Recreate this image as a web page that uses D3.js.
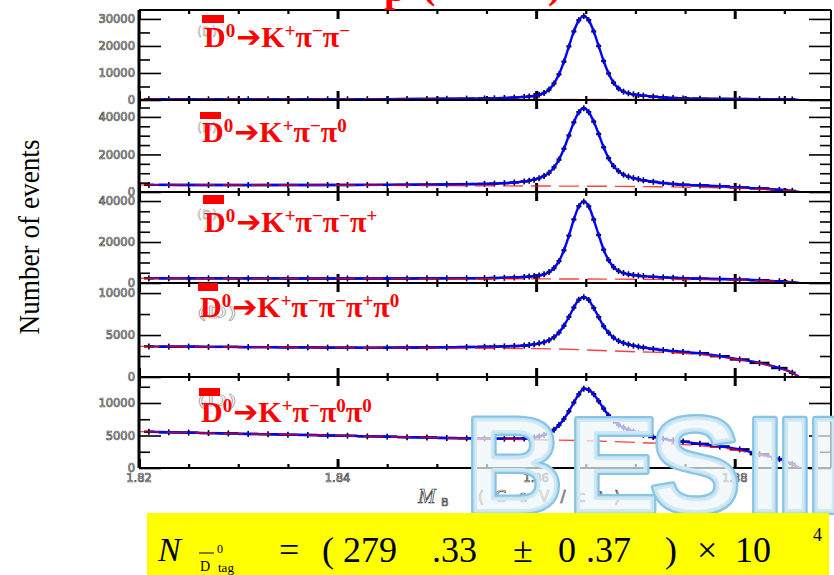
<!DOCTYPE html>
<html><head><meta charset="utf-8">
<script src="https://cdn.jsdelivr.net/npm/d3@7"></script>
<style>body{margin:0;background:#fff}svg{display:block}</style>
</head><body>
<svg id="c" width="834" height="575"></svg>
<script>
// ---------------- DATA ----------------
const massGrid = [1.821,1.823,1.825,1.827,1.829,1.831,1.833,1.835,1.837,1.839,1.841,1.843,1.845,1.847,1.849,1.851,1.853,
  1.8548,1.8558,1.8568,1.8578,1.8588,
  1.8593,1.8598,1.8603,1.8608,1.8613,1.8618,1.8623,1.8628,1.8633,1.8638,1.8643,1.8648,1.8653,1.8658,1.8663,1.8668,1.8673,1.8678,1.8683,1.8688,1.8693,1.8698,1.8703,
  1.8708,1.8718,1.8728,1.8738,1.8748,
  1.8765,1.8785,1.8805,1.8825,1.8845,1.8858];
const endpointMass = 1.8865;

const countsP1 = [260,255,262,258,255,260,258,265,270,275,285,300,320,350,390,440,500,
  560,620,740,900,1140,
  1330,1450,1940,2620,3880,6100,9490,14200,19840,25380,29510,31050,29510,25380,19960,14420,9800,6410,4250,3080,2470,2100,1850,
  1600,1250,950,750,600,
  500,420,360,320,280,200];
const countsP2 = [3790,3770,3750,3730,3710,3690,3710,3730,3710,3735,3755,3770,3810,3855,3940,4020,4190,
  4340,4480,4710,5070,5630,
  6020,6590,7330,8565,10215,13110,17250,23050,30095,37140,42525,44590,42505,37515,30865,23800,17980,13820,11100,9225,8170,7400,6840,
  6240,5430,4770,4280,3890,
  3520,3040,2430,1915,1150,625];
const countsP3 = [2300,2290,2280,2270,2260,2250,2240,2230,2220,2210,2200,2210,2220,2230,2260,2290,2330,
  2350,2430,2540,2690,2950,
  3140,3360,3700,4260,5390,7280,10670,15950,23110,31030,37440,39700,37360,30950,23410,16250,11160,7760,5880,4860,4260,3880,3620,
  3340,3010,2750,2530,2350,
  2150,1930,1660,1350,870,410];
const countsP4 = [3645,3620,3625,3590,3590,3560,3560,3530,3530,3505,3500,3480,3495,3510,3515,3545,3570,
  3600,3615,3650,3685,3745,
  3811,3896,4007,4149,4386,4749,5301,6105,7161,8280,9210,9510,9180,8220,7134,6048,5277,4695,4297,4057,3879,3733,3619,
  3517,3341,3202,3089,2989,
  2840,2480,2090,1680,1070,510];
const countsP5 = [5580,5490,5450,5370,5320,5240,5200,5120,5080,5000,4960,4870,4830,4740,4700,4610,4570,
  4540,4526,4520,4522,4545,
  4610,4715,4860,5085,5430,5895,6600,7545,8730,10075,11335,12200,12015,11350,10285,9140,8075,7250,6660,6230,5880,5610,5340,
  5110,4760,4490,4250,4060,
  3720,3320,2870,2130,1370,630];

const bkgMassP1 = [1.82,1.85,1.87,1.88,1.8858,1.8865];
const bkgP1     = [260,250,230,200,150,0];
const bkgMassP2 = [1.82,1.84,1.85,1.86,1.87,1.875,1.88,1.8825,1.8845,1.8858,1.8865];
const bkgP2     = [3800,3620,3420,3200,2920,2600,2050,1500,900,500,0];
const bkgMassP3 = [1.82,1.84,1.85,1.86,1.87,1.875,1.88,1.8825,1.8845,1.8858,1.8865];
const bkgP3     = [2300,2200,2110,2010,1840,1700,1420,1150,750,350,0];
const bkgMassP4 = [1.82,1.84,1.85,1.86,1.87,1.875,1.88,1.8825,1.8845,1.8858,1.8865];
const bkgP4     = [3650,3500,3450,3380,3010,2800,2150,1650,1050,500,0];
const bkgMassP5 = [1.82,1.83,1.84,1.85,1.86,1.865,1.87,1.875,1.88,1.8825,1.8845,1.8858,1.8865];
const bkgP5     = [5600,5280,4980,4650,4350,4200,3930,3600,2800,2000,1300,600,0];

const yMaxes = [33300,49000,44400,11200,14000];
const yMajorTicks = [[0,10000,20000,30000],[0,20000,40000],[0,20000,40000],[0,5000,10000],[0,5000,10000]];
const yMinorSteps = [5000,5000,5000,2500,2500];
const xMajorTicks = [1.82,1.84,1.86,1.88];
const xTickLabels = ["1.82","1.84","1.86","1.88"];

// decay labels: [text, kind]  kind: "" normal, "sup" superscript, "arr" arrow
const decayLabels = [
  [["D",""],["0","sup"],["➔","arr"],["K",""],["+","sup"],["π",""],["−","sup"],["π",""],["−","sup"]],
  [["D",""],["0","sup"],["➔","arr"],["K",""],["+","sup"],["π",""],["−","sup"],["π",""],["0","sup"]],
  [["D",""],["0","sup"],["➔","arr"],["K",""],["+","sup"],["π",""],["−","sup"],["π",""],["−","sup"],["π",""],["+","sup"]],
  [["D",""],["0","sup"],["➔","arr"],["K",""],["+","sup"],["π",""],["−","sup"],["π",""],["−","sup"],["π",""],["+","sup"],["π",""],["0","sup"]],
  [["D",""],["0","sup"],["➔","arr"],["K",""],["+","sup"],["π",""],["−","sup"],["π",""],["0","sup"],["π",""],["0","sup"]]
];
const yTitle = "Number of events";
const watermark = ["B","E","S","I","I","I"];

// ---------------- LAYOUT ----------------
const counts = [countsP1,countsP2,countsP3,countsP4,countsP5];
const bkgMass = [bkgMassP1,bkgMassP2,bkgMassP3,bkgMassP4,bkgMassP5];
const bkgs = [bkgP1,bkgP2,bkgP3,bkgP4,bkgP5];
const tops = [10,100,192,283,377], bottoms = [100,192,283,377,468];
const X0 = 139, X1 = 831;
const svg = d3.select("#c");
const x = d3.scaleLinear().domain([1.82,1.8897]).range([X0,X1]);
const defs = svg.append("defs");
const hollow = s => s.attr("fill","#fff").attr("stroke","#444").attr("stroke-width",0.7)
   .attr("font-family","DejaVu Sans").attr("font-size",11.5);

const gPlot = svg.append("g");
for (let i=0;i<5;i++){
  const top=tops[i], bot=bottoms[i];
  const y = d3.scaleLinear().domain([0,yMaxes[i]]).range([bot,top]);
  const g = gPlot.append("g");
  defs.append("clipPath").attr("id","clip"+i).append("rect")
     .attr("x",X0).attr("y",top).attr("width",X1-X0).attr("height",bot-top);

  // y axes
  const major = yMajorTicks[i];
  const minor = d3.range(0,yMaxes[i],yMinorSteps[i]).filter(v=>!major.includes(v));
  const la = g.append("g").attr("transform",`translate(${X0},0)`)
     .call(d3.axisLeft(y).tickValues(major).tickSize(-22).tickSizeOuter(0).tickPadding(4).tickFormat(d3.format("d")));
  la.select(".domain").remove();
  la.selectAll("line").attr("stroke","#000").attr("stroke-width",1.6);
  la.selectAll("text").call(hollow);
  const lm = g.append("g").attr("transform",`translate(${X0},0)`)
     .call(d3.axisLeft(y).tickValues(minor).tickSize(-11).tickSizeOuter(0).tickFormat(""));
  lm.select(".domain").remove(); lm.selectAll("line").attr("stroke","#000").attr("stroke-width",1.6);
  const ra = g.append("g").attr("transform",`translate(${X1},0)`)
     .call(d3.axisRight(y).tickValues(major).tickSize(-22).tickSizeOuter(0).tickFormat(""));
  ra.select(".domain").remove(); ra.selectAll("line").attr("stroke","#000").attr("stroke-width",1.6);
  const rm = g.append("g").attr("transform",`translate(${X1},0)`)
     .call(d3.axisRight(y).tickValues(minor).tickSize(-11).tickSizeOuter(0).tickFormat(""));
  rm.select(".domain").remove(); rm.selectAll("line").attr("stroke","#000").attr("stroke-width",1.6);

  // x axes (ticks inside, top and bottom)
  [[d3.axisBottom,bot],[d3.axisTop,top]].forEach(([ax,pos])=>{
    const a1 = g.append("g").attr("transform",`translate(0,${pos})`)
      .call(ax(x).tickValues(xMajorTicks).tickSize(-9).tickSizeOuter(0).tickFormat(""));
    a1.select(".domain").remove(); a1.selectAll("line").attr("stroke","#000").attr("stroke-width",3);
    const a2 = g.append("g").attr("transform",`translate(0,${pos})`)
      .call(ax(x).tickValues(x.ticks(14).filter(v=>!xMajorTicks.some(m=>Math.abs(m-v)<1e-9))).tickSize(-4).tickSizeOuter(0).tickFormat(""));
    a2.select(".domain").remove(); a2.selectAll("line").attr("stroke","#000").attr("stroke-width",2.2);
  });

  // frame lines
  g.append("line").attr("x1",X0).attr("x2",X1).attr("y1",top).attr("y2",top).attr("stroke","#000").attr("stroke-width",2);
  g.append("line").attr("x1",X0).attr("x2",X1).attr("y1",bot).attr("y2",bot).attr("stroke","#000").attr("stroke-width",2);

  // grey original "(D)" behind the label
  const gs = [12,12,12,16,16][i];
  const gy = [36,132,219,318,406][i];
  g.append("text").attr("x",197).attr("y",gy).text("(D)").attr("font-family","DejaVu Sans")
    .attr("font-size",gs).attr("fill","none").attr("stroke","#888").attr("stroke-width",0.45)
    .attr("textLength",[20,20,20,40,40][i]).attr("lengthAdjust","spacingAndGlyphs");

  // data + curves
  const gc = g.append("g").attr("clip-path",`url(#clip${i})`);
  const c = counts[i];
  const pts = massGrid.map((m,k)=>[m,c[k]]);
  const mk = gc.append("g").attr("stroke","#000");
  pts.forEach(([m,v],k)=>{
    const xl = x(massGrid[Math.max(0,k-1)]), xr = x(massGrid[Math.min(massGrid.length-1,k+1)]);
    const hw = Math.min(10,(xr-xl)/4 || 10);
    const px = x(m), py = y(v);
    mk.append("line").attr("x1",px-hw).attr("x2",px+hw).attr("y1",py).attr("y2",py).attr("stroke-width",2.4);
    mk.append("line").attr("x1",px).attr("x2",px).attr("y1",py-3).attr("y2",py+3).attr("stroke-width",1.6);
  });
  const line = d3.line().x(d=>x(d[0])).y(d=>y(d[1])).curve(d3.curveMonotoneX);
  gc.append("path").datum(pts.concat([[endpointMass,0]])).attr("d",line)
    .attr("fill","none").attr("stroke","#0000ff").attr("stroke-width",2.4);
  gc.append("path").datum(bkgMass[i].map((m,k)=>[m,bkgs[i][k]])).attr("d",line)
    .attr("fill","none").attr("stroke","#ff0000").attr("stroke-width",1.4)
    .attr("stroke-dasharray","20,8").attr("opacity",0.75);

  // decay label
  const lx = [204,202,204,200,201][i], ly = [47,142,232,317,422][i];
  const bar = [[202,15,22,8],[200,112,21,7],[203,195,21,9],[198,283,20,8],[199,388,21,8]][i];
  g.append("rect").attr("x",bar[0]).attr("y",bar[1]).attr("width",bar[2]).attr("height",bar[3]).attr("fill","#ff0000");
  const t = g.append("text").attr("x",lx).attr("y",ly).attr("fill","#ff0000")
    .attr("font-family","Liberation Serif").attr("font-weight","bold").attr("font-size",30);
  let raised = false;
  decayLabels[i].forEach(([s,kind])=>{
    const ts = t.append("tspan").text(s);
    if (kind==="sup"){ ts.attr("font-size",19).attr("dy",raised?0:-10); raised=true; }
    else { if (raised){ ts.attr("dy",10); raised=false; }
      if (kind==="arr") ts.attr("font-family","DejaVu Sans").attr("font-size",30).attr("dx",1); }
  });
}

// left thick axis & right border
svg.append("line").attr("x1",X0).attr("x2",X0).attr("y1",tops[0]).attr("y2",bottoms[4]).attr("stroke","#000").attr("stroke-width",3);
svg.append("line").attr("x1",X1).attr("x2",X1).attr("y1",tops[0]).attr("y2",bottoms[4]).attr("stroke","#000").attr("stroke-width",2);

// x tick labels (bottom panel)
svg.append("g").selectAll("text").data(xMajorTicks).join("text")
  .attr("x",d=>x(d)).attr("y",482).attr("text-anchor","middle").text((d,k)=>xTickLabels[k]).call(hollow);

// x axis title
const xt = svg.append("g");
xt.append("text").attr("x",418).attr("y",503).text("M").attr("font-family","Liberation Serif")
  .attr("font-style","italic").attr("font-size",21).attr("fill","#fff").attr("stroke","#333").attr("stroke-width",0.7);
xt.append("text").attr("x",441).attr("y",506).text("B").call(hollow).attr("font-size",11);
xt.append("text").attr("x",478).attr("y",502).text("(GeV/c²)").call(hollow).attr("font-size",15)
  .attr("textLength",142).attr("lengthAdjust","spacing");

// y title
svg.append("text").attr("transform","translate(39,237) rotate(-90)").attr("text-anchor","middle")
  .attr("font-family","Liberation Serif").attr("font-size",30).attr("fill","#000")
  .attr("textLength",195).attr("lengthAdjust","spacingAndGlyphs").text(yTitle);

// red title fragments (cut at the top)
const rt = svg.append("text").attr("fill","#ff0000").attr("font-family","Liberation Serif")
  .attr("font-weight","bold").attr("font-size",40).attr("y",1);
rt.append("tspan").attr("x",384).text("p");
rt.append("tspan").attr("x",422).attr("dy",-3).text("(");
rt.append("tspan").attr("x",548).text(")");

// BESIII watermark
const wx = [465,568,650,746,776,806];
const wm = svg.append("g").attr("font-family","Liberation Sans").attr("font-weight","bold").attr("font-size",136);
wm.selectAll("text.o").data(watermark).join("text").attr("class","o")
  .attr("x",(d,k)=>wx[k]).attr("y",512).text(d=>d)
  .attr("fill","#eef6fa").attr("fill-opacity",0.72).attr("stroke","#86c5e6").attr("stroke-width",6).attr("stroke-linejoin","round")
  .attr("paint-order","stroke");
wm.selectAll("text.i").data(watermark).join("text").attr("class","i")
  .attr("x",(d,k)=>wx[k]).attr("y",512).text(d=>d)
  .attr("fill","none").attr("stroke","#c4e2f1").attr("stroke-width",1.5);

// yellow result box
const yb = svg.append("g").attr("font-family","Liberation Serif").attr("fill","#000");
yb.append("rect").attr("x",147).attr("y",513).attr("width",682).attr("height",62).attr("fill","#ffff00");
yb.append("text").attr("x",158).attr("y",561).attr("font-size",34).attr("font-style","italic").text("N");
yb.append("line").attr("x1",199).attr("x2",214).attr("y1",553).attr("y2",553).attr("stroke","#000").attr("stroke-width",1);
yb.append("text").attr("x",200).attr("y",571).attr("font-size",14).text("D");
yb.append("text").attr("x",217).attr("y",553).attr("font-size",12).text("0");
yb.append("text").attr("x",218).attr("y",572).attr("font-size",13).text("tag");
[["=",279],["(",322],["279",343],[".33",432],["±",513],["0",558],[".37",586],[")",665],["×",697],["10",735]]
  .forEach(([s,px])=>yb.append("text").attr("x",px).attr("y",562).attr("font-size",36).text(s));
yb.append("text").attr("x",813).attr("y",541).attr("font-size",18).text("4");
</script>
</body></html>
